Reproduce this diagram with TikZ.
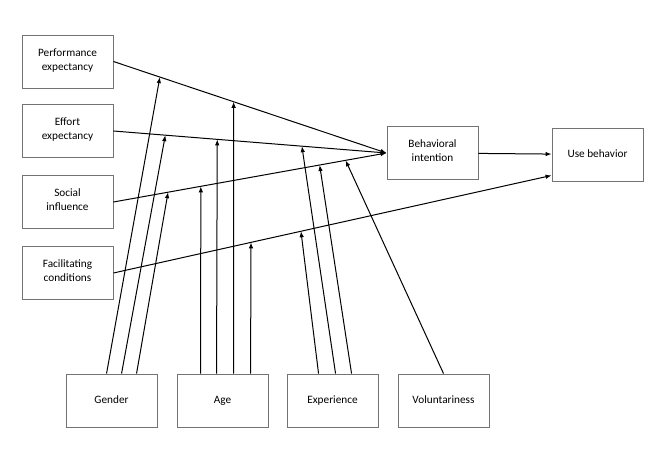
\documentclass[tikz,border=0pt]{standalone}
\usepackage{fontspec}
\setmainfont{Carlito}
\usetikzlibrary{arrows.meta, calc}

\begin{document}
\begin{tikzpicture}[x=1bp, y=-1bp,
        box/.style={draw=black!55, line width=0.9bp, minimum width=91bp, minimum height=53bp,
            inner sep=0pt, align=center, font=\fontsize{11.3}{14}\selectfont,
            execute at begin node=\strut, execute at end node=\strut},
        link/.style={-{Latex[length=6bp,width=4.5bp]}, line width=1bp}]
        \useasboundingbox (0,0) rectangle (665,463);

        % constructs
        \node[box] (pe) at (67.5,61.5) {Performance\\expectancy};
        \node[box] (ee) at (67.5,131) {Effort\\expectancy};
        \node[box] (si) at (67.5,202) {Social\\influence};
        \node[box] (fc) at (67.5,273) {Facilitating\\conditions};
        \node[box] (bi) at (432.5,153) {Behavioral\\intention};
        \node[box] (ub) at (597.5,154.5) {Use behavior};

        % moderators
        \node[box] (gen) at (111.5,400.5) {Gender};
        \node[box] (age) at (222.5,400.5) {Age};
        \node[box] (exp) at (332.5,400.5) {Experience};
        \node[box] (vol) at (443.5,400.5) {Voluntariness};

        \coordinate (ubin) at ([yshift=6bp]ub.south west);

        % points where the moderators meet the paths
        \path (pe.east) -- (bi.west) coordinate[pos=0.17] (pe1) coordinate[pos=0.44] (pe2);
        \path (ee.east) -- (bi.west) coordinate[pos=0.19] (ee1) coordinate[pos=0.38] (ee2)
            coordinate[pos=0.69] (ee3);
        \path (si.east) -- (bi.west) coordinate[pos=0.20] (si1) coordinate[pos=0.32] (si2)
            coordinate[pos=0.755] (si3) coordinate[pos=0.85] (si4);
        \path (fc.east) -- (ubin) coordinate[pos=0.314] (fc1) coordinate[pos=0.428] (fc2);

        % main paths
        \draw[link] (pe.east) -- (bi.west);
        \draw[link] (ee.east) -- (bi.west);
        \draw[link] (si.east) -- (bi.west);
        \draw[link] (fc.east) -- (ubin);
        \draw[link] (bi) -- (ub);

        % gender
        \coordinate (g1) at ([xshift=41bp]gen.north west);
        \coordinate (g2) at ([xshift=56bp]gen.north west);
        \coordinate (g3) at ([xshift=71bp]gen.north west);
        \draw[link] (g1) -- (pe1);
        \draw[link] (g2) -- (ee1);
        \draw[link] (g3) -- (si1);

        % age
        \coordinate (a1) at ([xshift=24bp]age.north west);
        \coordinate (a2) at ([xshift=40bp]age.north west);
        \coordinate (a3) at ([xshift=57bp]age.north west);
        \coordinate (a4) at ([xshift=74bp]age.north west);
        \draw[link] (a1) -- (si2);
        \draw[link] (a2) -- (ee2);
        \draw[link] (a3) -- (pe2);
        \draw[link] (a4) -- (fc1);

        % experience
        \coordinate (x1) at ([xshift=32bp]exp.north west);
        \coordinate (x2) at ([xshift=49bp]exp.north west);
        \coordinate (x3) at ([xshift=65bp]exp.north west);
        \draw[link] (x1) -- (fc2);
        \draw[link] (x2) -- (ee3);
        \draw[link] (x3) -- (si3);

        % voluntariness
        \draw[link] (vol.north) -- (si4);
\end{tikzpicture}
\end{document}
